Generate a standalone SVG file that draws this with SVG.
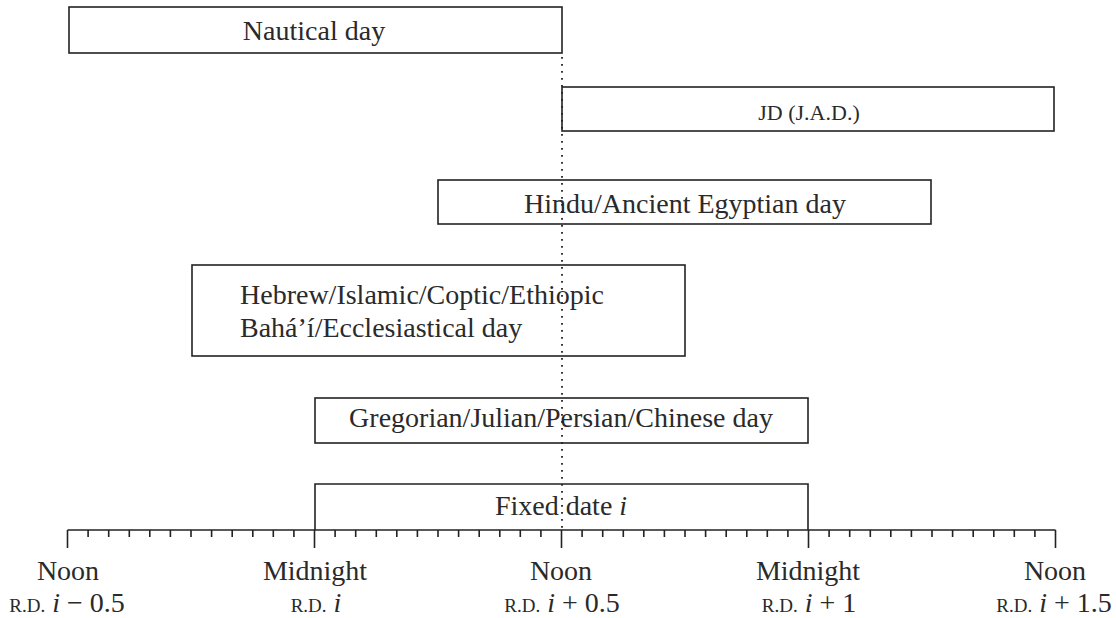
<svg xmlns="http://www.w3.org/2000/svg" width="1116" height="618" viewBox="0 0 1116 618">
<style>
.box{fill:none;stroke:#222;stroke-width:1.6}
.t{font-family:"Liberation Serif","Times New Roman",serif;font-size:28px;fill:#2a2a2a}
.c{text-anchor:middle}
.sc{font-size:19px}
.it{font-style:italic}
.axis{fill:none;stroke:#222;stroke-width:1.6}
.dot{fill:none;stroke:#222;stroke-width:1.8;stroke-dasharray:1.8 5.2}
</style>
<rect width="1116" height="618" fill="#fff"/>
<g id="nautical">
<rect class="box" x="69" y="7" width="493" height="46"/>
<text class="t c" x="314" y="40">Nautical day</text>
</g>
<g id="jd">
<rect class="box" x="562" y="87" width="492" height="44"/>
<text class="t c" x="809" y="120" style="font-size:22px">JD (J.A.D.)</text>
</g>
<g id="hindu">
<rect class="box" x="438" y="180" width="493" height="44"/>
<text class="t c" x="685" y="213">Hindu/Ancient Egyptian day</text>
</g>
<g id="hebrew">
<rect class="box" x="192" y="265" width="493" height="91"/>
<text class="t" x="240" y="304">Hebrew/Islamic/Coptic/Ethiopic</text>
<text class="t" x="240" y="337">Bahá’í/Ecclesiastical day</text>
</g>
<g id="gregorian">
<rect class="box" x="315" y="398" width="493" height="45"/>
<text class="t c" x="561" y="427">Gregorian/Julian/Persian/Chinese day</text>
</g>
<g id="fixed">
<path class="box" d="M315,530 V484 H808 V530"/>
<text class="t c" x="561" y="515">Fixed date <tspan class="it">i</tspan></text>
</g>
<g id="connectors">
<line class="dot" x1="562" y1="57" x2="562" y2="530"/>
</g>
<g id="axis">
<line class="axis" x1="67.5" y1="530" x2="1055.5" y2="530"/>
<path class="axis" d="M67.5,530V548M314.5,530V548M561.5,530V548M808.5,530V548M1055.5,530V548"/>
<path class="axis" d="M88.1,530v7M108.7,530v7M129.3,530v7M149.8,530v7M170.4,530v7M191,530v7M211.6,530v7M232.2,530v7M252.8,530v7M273.3,530v7M293.9,530v7M335.1,530v7M355.7,530v7M376.3,530v7M396.8,530v7M417.4,530v7M438,530v7M458.6,530v7M479.2,530v7M499.8,530v7M520.3,530v7M540.9,530v7M582.1,530v7M602.7,530v7M623.3,530v7M643.8,530v7M664.4,530v7M685,530v7M705.6,530v7M726.2,530v7M746.8,530v7M767.3,530v7M787.9,530v7M829.1,530v7M849.7,530v7M870.3,530v7M890.8,530v7M911.4,530v7M932,530v7M952.6,530v7M973.2,530v7M993.8,530v7M1014.3,530v7M1034.9,530v7"/>
</g>
<g id="labels">
<text class="t c" x="68" y="580">Noon</text>
<text class="t c" x="67" y="612"><tspan class="sc">R.D.</tspan> <tspan class="it">i</tspan> − 0.5</text>
<text class="t c" x="315" y="580">Midnight</text>
<text class="t c" x="316" y="612"><tspan class="sc">R.D.</tspan> <tspan class="it">i</tspan></text>
<text class="t c" x="561" y="580">Noon</text>
<text class="t c" x="562" y="612"><tspan class="sc">R.D.</tspan> <tspan class="it">i</tspan> + 0.5</text>
<text class="t c" x="808" y="580">Midnight</text>
<text class="t c" x="809" y="612"><tspan class="sc">R.D.</tspan> <tspan class="it">i</tspan> + 1</text>
<text class="t c" x="1055" y="580">Noon</text>
<text class="t c" x="1054" y="612"><tspan class="sc">R.D.</tspan> <tspan class="it">i</tspan> + 1.5</text>
</g>
</svg>
